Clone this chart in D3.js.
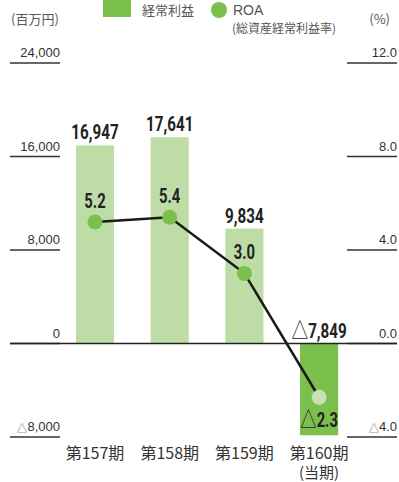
<!DOCTYPE html>
<html>
<head>
<meta charset="utf-8">
<script src="https://cdn.jsdelivr.net/npm/d3@7"></script>
<style>
  body { margin: 0; background: #fff; }
  svg { display: block; }
</style>
</head>
<body>
<div id="chart"></div>
<script>
// data
const periods = ["第157期", "第158期", "第159期", "第160期"];
const periodSub = ["", "", "", "(当期)"];
const profit = [16947, 17641, 9834, -7849];   // 経常利益 (百万円)
const roa = [5.2, 5.4, 3.0, -2.3];             // ROA (%)
const leftTicks = [-8000, 0, 8000, 16000, 24000];
const rightTicks = [-4, 0, 4, 8, 12];

const width = 399, height = 482;
const svg = d3.select("#chart").append("svg")
    .attr("width", width)
    .attr("height", height);

const jp = "'Noto Sans CJK JP', sans-serif";
const num = "'Liberation Sans', Arial, sans-serif";
const cond = "Roboto, 'DejaVu Sans', sans-serif";

const x = d3.scaleBand()
    .domain(periods)
    .range([57.65, 356.45])
    .paddingInner(0.49)
    .paddingOuter(0.245);
const yL = d3.scaleLinear().domain([-8000, 24000]).range([437, 63]);
const yR = d3.scaleLinear().domain([-4, 12]).range([437, 63]);

const cx = i => x(periods[i]) + x.bandwidth() / 2;

// bars
svg.selectAll("rect.bar")
    .data(profit)
    .join("rect")
    .attr("class", "bar")
    .attr("x", (d, i) => x(periods[i]))
    .attr("width", x.bandwidth())
    .attr("y", d => yL(Math.max(0, d)))
    .attr("height", d => Math.abs(yL(d) - yL(0)))
    .attr("fill", (d, i) => i === profit.length - 1 ? "#7bbf4c" : "#bedca5");

// axis with the tick line under its label
function sideAxis(ticks, scale, x1, x2, fmt) {
    const g = svg.append("g");
    ticks.forEach(t => {
        g.append("line")
            .attr("x1", x1).attr("x2", x2)
            .attr("y1", scale(t)).attr("y2", scale(t))
            .attr("stroke", "#333").attr("stroke-width", 1.5);
        const tx = g.append("text")
            .attr("x", x2).attr("y", scale(t) - 6)
            .attr("text-anchor", "end")
            .attr("font-family", num).attr("font-size", 13)
            .attr("fill", "#333");
        if (t < 0) {
            tx.append("tspan").attr("fill", "#999").text("△");
            tx.append("tspan").text(fmt(-t));
        } else tx.text(fmt(t));
    });
}
sideAxis(leftTicks, yL, 10, 60, d3.format(","));
sideAxis(rightTicks, yR, 347, 397, d3.format(".1f"));

// zero line
svg.append("line")
    .attr("x1", 10).attr("x2", 397)
    .attr("y1", yL(0)).attr("y2", yL(0))
    .attr("stroke", "#222").attr("stroke-width", 1.5);

// ROA line
const line = d3.line()
    .x((d, i) => cx(i))
    .y(d => yR(d));
svg.append("path")
    .datum(roa)
    .attr("fill", "none")
    .attr("stroke", "#1a1a1a")
    .attr("stroke-width", 2.5)
    .attr("d", line);

svg.selectAll("circle.dot")
    .data(roa)
    .join("circle")
    .attr("class", "dot")
    .attr("cx", (d, i) => cx(i))
    .attr("cy", d => yR(d))
    .attr("r", 7.5)
    .attr("fill", (d, i) => i === roa.length - 1 ? "#c9e2b4" : "#7bbf4c");

// narrow bold value label (condensed look by squeezing horizontally)
function valueLabel(px, py, v, fmt, size) {
    const t = svg.append("g")
        .attr("transform", `translate(${px},${py})`)
        .append("text")
        .attr("transform", "scale(0.76,1)")
        .attr("text-anchor", "middle")
        .attr("font-family", cond).attr("font-weight", "bold")
        .attr("font-size", size).attr("fill", "#222");
    if (v < 0) {
        t.append("tspan").attr("font-family", jp).attr("font-weight", "normal")
            .attr("font-size", size + 2).text("△");
        t.append("tspan").text(fmt(-v));
    } else t.text(fmt(v));
}

profit.forEach((v, i) => {
    valueLabel(cx(i), Math.min(yL(v), yL(0)) - 6, v, d3.format(","), 20);
});
roa.forEach((v, i) => {
    valueLabel(cx(i), v < 0 ? yR(v) + 30 : yR(v) - 14, v, d3.format(".1f"), 19.5);
});

// x labels (second line as tspan)
periods.forEach((p, i) => {
    const t = svg.append("text")
        .attr("y", 459)
        .attr("text-anchor", "middle")
        .attr("font-family", jp).attr("font-size", 16)
        .attr("fill", "#333");
    t.append("tspan").attr("x", cx(i)).text(p);
    if (periodSub[i]) {
        t.append("tspan").attr("x", cx(i)).attr("dy", 19)
            .attr("font-size", 15).text(periodSub[i]);
    }
});

// unit labels
svg.append("text").attr("x", 11).attr("y", 24)
    .attr("font-family", jp).attr("font-size", 13).attr("fill", "#555")
    .text("(百万円)");
svg.append("text").attr("x", 390).attr("y", 24)
    .attr("text-anchor", "end")
    .attr("font-family", jp).attr("font-size", 13).attr("fill", "#555")
    .text("(%)");

// legend
svg.append("rect").attr("x", 103).attr("y", 0).attr("width", 28).attr("height", 17)
    .attr("fill", "#7bbf4c");
svg.append("text").attr("x", 142).attr("y", 15)
    .attr("font-family", jp).attr("font-size", 13).attr("fill", "#555")
    .text("経常利益");
svg.append("circle").attr("cx", 219).attr("cy", 10).attr("r", 8)
    .attr("fill", "#7bbf4c");
svg.append("text").attr("x", 233).attr("y", 15)
    .attr("font-family", num).attr("font-size", 14).attr("fill", "#555")
    .text("ROA");
svg.append("text").attr("x", 232).attr("y", 33)
    .attr("font-family", jp).attr("font-size", 12).attr("fill", "#555")
    .text("(総資産経常利益率)");
</script>
</body>
</html>
